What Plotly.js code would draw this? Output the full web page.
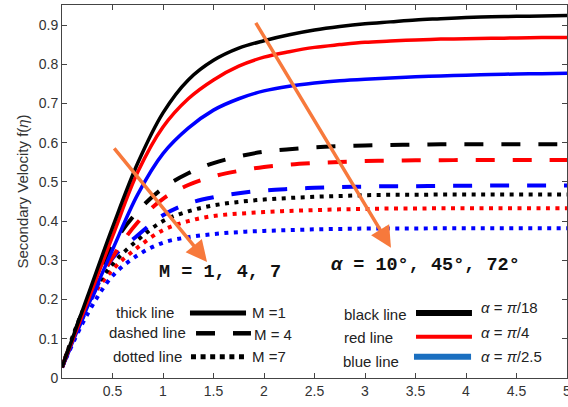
<!DOCTYPE html>
<html>
<head>
<meta charset="utf-8">
<script src="https://cdn.plot.ly/plotly-3.0.1.min.js"></script>
<style>html,body{margin:0;padding:0;background:#fff;}#chart{width:568px;height:407px;}</style>
</head>
<body>
<div id="chart"></div>
<script>
// eta grid
const eta = [0, 0.25, 0.5, 0.75, 1, 1.25, 1.5, 1.75, 2, 2.25, 2.5, 2.75, 3, 3.25, 3.5, 3.75, 4, 4.25, 4.5, 4.75, 5];

// M = 1 (thick solid)
const blackM1 = [0.027, 0.206, 0.384, 0.548, 0.676, 0.760, 0.810, 0.841, 0.860, 0.875, 0.887, 0.896, 0.903, 0.908, 0.913, 0.916, 0.919, 0.921, 0.922, 0.923, 0.924];
const redM1   = [0.027, 0.193, 0.361, 0.525, 0.640, 0.712, 0.760, 0.795, 0.818, 0.832, 0.843, 0.850, 0.856, 0.859, 0.862, 0.864, 0.865, 0.866, 0.867, 0.868, 0.868];
const blueM1  = [0.027, 0.180, 0.327, 0.468, 0.572, 0.637, 0.683, 0.712, 0.732, 0.744, 0.752, 0.758, 0.762, 0.765, 0.768, 0.770, 0.772, 0.774, 0.775, 0.776, 0.777];

// M = 4 (dashed)
const blackM4 = [0.027, 0.200, 0.338, 0.425, 0.484, 0.522, 0.548, 0.565, 0.577, 0.583, 0.588, 0.591, 0.593, 0.594, 0.595, 0.596, 0.596, 0.596, 0.596, 0.596, 0.596];
const redM4   = [0.027, 0.190, 0.308, 0.397, 0.457, 0.492, 0.514, 0.528, 0.538, 0.544, 0.548, 0.551, 0.553, 0.554, 0.555, 0.555, 0.556, 0.556, 0.556, 0.556, 0.556];
const blueM4  = [0.027, 0.178, 0.305, 0.364, 0.415, 0.445, 0.461, 0.471, 0.478, 0.482, 0.485, 0.487, 0.488, 0.489, 0.489, 0.490, 0.490, 0.491, 0.491, 0.491, 0.491];

// M = 7 (dotted)
const blackM7 = [0.027, 0.195, 0.290, 0.352, 0.400, 0.425, 0.440, 0.449, 0.455, 0.459, 0.462, 0.464, 0.466, 0.467, 0.467, 0.468, 0.468, 0.468, 0.468, 0.468, 0.468];
const redM7   = [0.027, 0.185, 0.276, 0.333, 0.377, 0.400, 0.413, 0.419, 0.423, 0.426, 0.428, 0.430, 0.431, 0.432, 0.432, 0.433, 0.433, 0.433, 0.433, 0.433, 0.433];
const blueM7  = [0.027, 0.162, 0.260, 0.313, 0.345, 0.359, 0.367, 0.372, 0.375, 0.377, 0.379, 0.380, 0.381, 0.381, 0.381, 0.382, 0.382, 0.382, 0.382, 0.382, 0.382];

const xTicks = [0.5, 1, 1.5, 2, 2.5, 3, 3.5, 4, 4.5, 5];
const xTickText = ['0.5', '1', '1.5', '2', '2.5', '3', '3.5', '4', '4.5', '5'];
const yTicks = [0, 0.1, 0.2, 0.3, 0.4, 0.5, 0.6, 0.7, 0.8, 0.9];
const yTickText = ['0', '0.1', '0.2', '0.3', '0.4', '0.5', '0.6', '0.7', '0.8', '0.9'];

const BLACK = '#000000', RED = '#ff0000', BLUE = '#0000ff', ORANGE = '#f7793c';
const DASH = '19px,18px', DOT = '4px,5.5px';

function tr(y, color, dash, width) {
  return {x: eta, y: y, type: 'scatter', mode: 'lines',
    line: {color: color, dash: dash, width: width, shape: 'spline', smoothing: 1.0},
    hoverinfo: 'skip', showlegend: false};
}

const data = [
  tr(blueM7, BLUE, DOT, 4), tr(redM7, RED, DOT, 4), tr(blackM7, BLACK, DOT, 4),
  tr(blueM4, BLUE, DASH, 4), tr(redM4, RED, DASH, 4), tr(blackM4, BLACK, DASH, 4),
  tr(blueM1, BLUE, 'solid', 3.5), tr(redM1, RED, 'solid', 3.5), tr(blackM1, BLACK, 'solid', 3.5)
];

const lblFont = {family: 'Liberation Sans, Arial, sans-serif', size: 15, color: '#222'};
const monoFont = {family: 'Liberation Mono, Courier New, monospace', size: 18.5, color: '#111'};

const annotations = [
  // orange arrows
  {x: 1.436, y: 0.296, ax: 0.505, ay: 0.589, xref: 'x', yref: 'y', axref: 'x', ayref: 'y',
   text: '', showarrow: true, arrowhead: 2, arrowsize: 1.2, arrowwidth: 3.5, arrowcolor: ORANGE},
  {x: 3.257, y: 0.332, ax: 1.91, ay: 0.909, xref: 'x', yref: 'y', axref: 'x', ayref: 'y',
   text: '', showarrow: true, arrowhead: 2, arrowsize: 1.2, arrowwidth: 3.5, arrowcolor: ORANGE},
  {x: 1.56, y: 0.268, xref: 'x', yref: 'y', text: '<b>M = 1, 4, 7</b>', showarrow: false, font: monoFont},
  {x: 3.6, y: 0.288, xref: 'x', yref: 'y', text: '<b><i>α</i> = 10°, 45°, 72°</b>', showarrow: false, font: monoFont},
  // left legend
  {x: 0.82, y: 0.166, xref: 'x', yref: 'y', text: 'thick line', showarrow: false, font: lblFont},
  {x: 1.861, y: 0.166, xref: 'x', yref: 'y', xanchor: 'left', text: 'M =1', showarrow: false, font: lblFont},
  {x: 0.847, y: 0.115, xref: 'x', yref: 'y', text: 'dashed line', showarrow: false, font: lblFont},
  {x: 1.881, y: 0.110, xref: 'x', yref: 'y', xanchor: 'left', text: 'M = 4', showarrow: false, font: lblFont},
  {x: 0.851, y: 0.054, xref: 'x', yref: 'y', text: 'dotted line', showarrow: false, font: lblFont},
  {x: 1.861, y: 0.054, xref: 'x', yref: 'y', xanchor: 'left', text: 'M =7', showarrow: false, font: lblFont},
  // right legend
  {x: 3.099, y: 0.163, xref: 'x', yref: 'y', text: 'black line', showarrow: false, font: lblFont},
  {x: 4.129, y: 0.179, xref: 'x', yref: 'y', xanchor: 'left', text: '<i>α</i> = <i>π</i>/18', showarrow: false, font: lblFont},
  {x: 3.03, y: 0.102, xref: 'x', yref: 'y', text: 'red line', showarrow: false, font: lblFont},
  {x: 4.129, y: 0.115, xref: 'x', yref: 'y', xanchor: 'left', text: '<i>α</i> = <i>π</i>/4', showarrow: false, font: lblFont},
  {x: 3.06, y: 0.043, xref: 'x', yref: 'y', text: 'blue line', showarrow: false, font: lblFont},
  {x: 4.129, y: 0.054, xref: 'x', yref: 'y', xanchor: 'left', text: '<i>α</i> = <i>π</i>/2.5', showarrow: false, font: lblFont}
];

function seg(x0, x1, y, color, width, dash) {
  return {type: 'line', xref: 'x', yref: 'y', x0: x0, x1: x1, y0: y, y1: y,
    line: {color: color, width: width, dash: dash || 'solid'}};
}
const shapes = [
  seg(1.267, 1.822, 0.166, BLACK, 5),
  seg(1.327, 1.515, 0.114, BLACK, 4.5),
  seg(1.693, 1.871, 0.114, BLACK, 4.5),
  seg(1.277, 1.802, 0.054, BLACK, 5, '5px,4.6px'),
  seg(3.505, 4.059, 0.166, BLACK, 6),
  seg(3.505, 4.059, 0.105, RED, 4),
  seg(3.485, 4.05, 0.054, '#1a6fc0', 6)
];

const axCommon = {showline: true, linecolor: '#444', linewidth: 1, mirror: 'ticks',
  ticks: 'inside', ticklen: 5, tickcolor: '#444', showgrid: false, zeroline: false,
  ticklabeloverflow: 'allow',
  tickfont: {family: 'Liberation Sans, Arial, sans-serif', size: 14, color: '#333'}};

const layout = {
  width: 568, height: 407,
  margin: {l: 62, r: 1, t: 5, b: 29},
  paper_bgcolor: '#fff', plot_bgcolor: '#fff',
  showlegend: false,
  xaxis: Object.assign({}, axCommon, {range: [0, 5], tickmode: 'array', tickvals: xTicks, ticktext: xTickText}),
  yaxis: Object.assign({}, axCommon, {range: [0, 0.951], tickmode: 'array', tickvals: yTicks, ticktext: yTickText,
    title: {text: 'Secondary Velocity f(<i>η</i>)', standoff: 6,
      font: {family: 'Liberation Sans, Arial, sans-serif', size: 15, color: '#333'}}}),
  annotations: annotations,
  shapes: shapes
};

Plotly.newPlot('chart', data, layout, {staticPlot: true, displayModeBar: false});
</script>
</body>
</html>
